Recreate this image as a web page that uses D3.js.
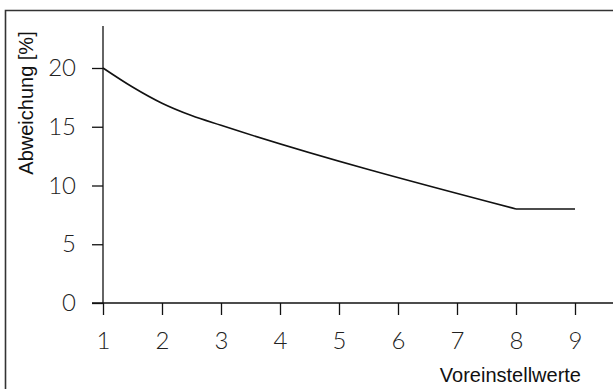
<!DOCTYPE html>
<html><head><meta charset="utf-8">
<script src="https://cdn.jsdelivr.net/npm/d3@7"></script>
<style>
html,body{margin:0;padding:0;background:#fff;}
svg{display:block;}
.tick text{font-family:"Lato","DejaVu Sans",sans-serif;font-weight:300;}
</style></head>
<body>
<svg id="chart" width="613" height="389"></svg>
<script>
const xValues = [1, 1.5, 2, 2.5, 3, 8, 9];
const yValues = [20, 18.38, 17.0, 15.95, 15.12, 8, 8];
const xTicks = [1, 2, 3, 4, 5, 6, 7, 8, 9];
const yTicks = [0, 5, 10, 15, 20];
const xLabel = "Voreinstellwerte";
const yLabel = "Abweichung [%]";

const svg = d3.select("#chart");
const x = d3.scaleLinear().domain([1, 9]).range([103, 575]);
const y = d3.scaleLinear().domain([0, 20]).range([303, 68]);

// frame
svg.append("path").attr("d", "M5.5,389 L5.5,10.5 L613,10.5")
  .attr("fill", "none").attr("stroke", "#333").attr("stroke-width", 1.6);

// axis lines
svg.append("line").attr("x1", x(1)).attr("x2", x(1)).attr("y1", 26).attr("y2", y(0))
  .attr("stroke", "#111").attr("stroke-width", 1.3);
svg.append("line").attr("x1", 92).attr("x2", 613).attr("y1", y(0)).attr("y2", y(0))
  .attr("stroke", "#111").attr("stroke-width", 1.3);

const yAxis = svg.append("g").attr("transform", `translate(${x(1)},0)`)
  .call(d3.axisLeft(y).tickValues(yTicks).tickSize(11).tickPadding(16));
yAxis.select(".domain").remove();
yAxis.selectAll(".tick line").attr("stroke", "#111").attr("stroke-width", 1.3);
yAxis.selectAll(".tick text").attr("font-size", 24).attr("fill", "#222");

const xAxis = svg.append("g").attr("transform", `translate(0,${y(0)})`)
  .call(d3.axisBottom(x).tickValues(xTicks).tickSize(12).tickPadding(17));
xAxis.select(".domain").remove();
xAxis.selectAll(".tick line").attr("stroke", "#111").attr("stroke-width", 1.3);
xAxis.selectAll(".tick text").attr("font-size", 24).attr("fill", "#222");

// line: smooth part up to 8, straight plateau to 9
const pts = xValues.map((v, i) => [v, yValues[i]]);
const curvePts = pts.filter(d => d[0] <= 8);
const flatPts = pts.filter(d => d[0] >= 8);
svg.append("path").datum(curvePts)
  .attr("d", d3.line().x(d => x(d[0])).y(d => y(d[1])).curve(d3.curveMonotoneX))
  .attr("fill", "none").attr("stroke", "#111").attr("stroke-width", 1.6);
svg.append("path").datum(flatPts)
  .attr("d", d3.line().x(d => x(d[0])).y(d => y(d[1])))
  .attr("fill", "none").attr("stroke", "#111").attr("stroke-width", 1.6);

svg.append("text").attr("x", 581).attr("y", 382).attr("text-anchor", "end")
  .attr("font-family", "Liberation Sans, Arial, sans-serif").attr("font-size", 20)
  .attr("fill", "#111").text(xLabel);
svg.append("text").attr("transform", "translate(33,103) rotate(-90)").attr("text-anchor", "middle")
  .attr("font-family", "Liberation Sans, Arial, sans-serif").attr("font-size", 20)
  .attr("fill", "#111").text(yLabel);
</script>
</body></html>
